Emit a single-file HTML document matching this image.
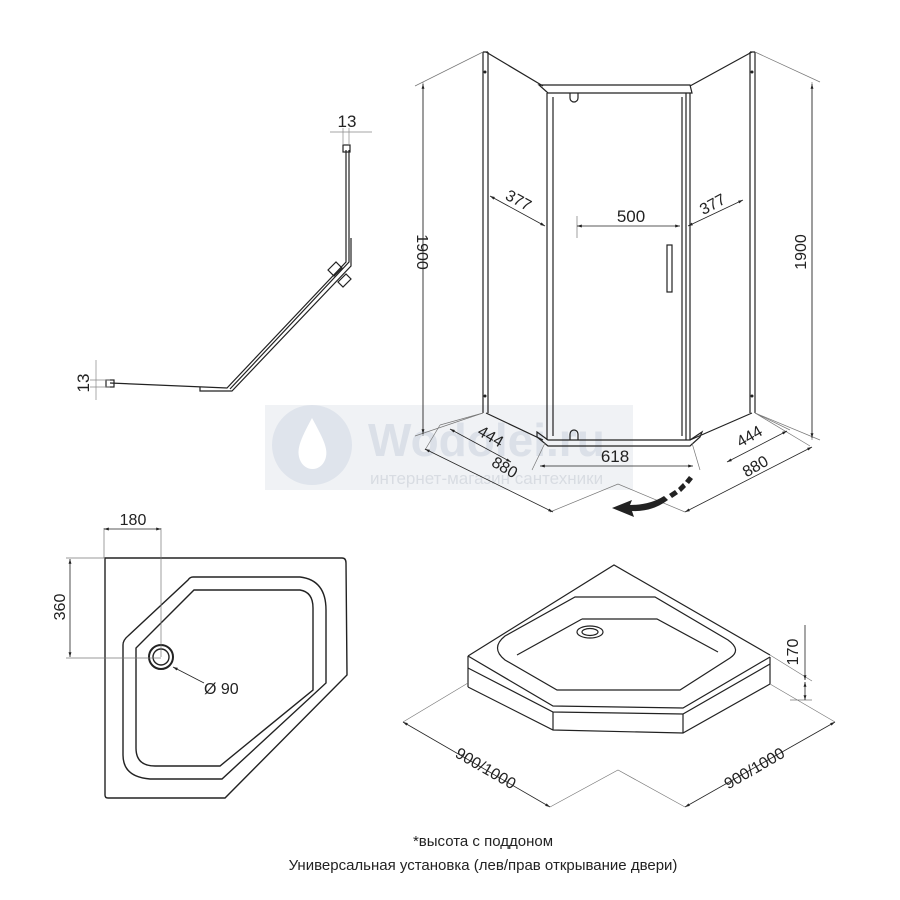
<!DOCTYPE html>
<html><head><meta charset="utf-8"><style>
html,body{margin:0;padding:0;background:#fff}
svg{display:block}
text{font-family:"Liberation Sans","DejaVu Sans",sans-serif;fill:#222}
</style></head><body>
<svg width="900" height="900" viewBox="0 0 900 900" xmlns="http://www.w3.org/2000/svg">
<defs>
<marker id="a" viewBox="0 0 10 10" refX="10" refY="5" markerWidth="8" markerHeight="6" orient="auto-start-reverse"><path d="M0,2 L10,5 L0,8z" fill="#222"/></marker>
</defs>

<!-- watermark -->
<rect x="265" y="405" width="368" height="85" fill="#f0f2f5"/>
<circle cx="312" cy="445" r="40" fill="#dfe4ec"/>
<path d="M312 418 C300 440 296 450 300 460 C305 472 320 472 325 460 C329 450 324 440 312 418z" fill="#fff"/>
<text x="368" y="456" font-size="46" font-weight="bold" style="fill:#dbe0e8">Wodolei.ru</text>
<text x="370" y="484" font-size="17" style="fill:#d8dce2">интернет-магазин сантехники</text>

<g fill="none" stroke="#222" stroke-width="1.2">
<!-- top-left plan -->
<path d="M346 150 L346 262 L227 388 L110 383"/>
<path d="M349 150 L349 262 L230 389"/>
<path d="M351 238 L351 266 L232 391 L200 391 L200 387"/>
<rect x="343" y="145" width="7" height="7"/>
<rect x="106" y="380" width="8" height="7"/>
<path d="M328 270 l8 -8 l6 6 l-8 8z M338 282 l8 -8 l5 5 l-8 8z"/>
</g>
<g stroke="#888" stroke-width="0.7" fill="none">
<path d="M330 132 L372 132 M343 128 L343 145 M349 128 L349 145"/>
<path d="M96 360 L96 400 M90 380 L110 380 M90 387 L110 387"/>
</g>
<text x="347" y="127" font-size="17" text-anchor="middle">13</text>
<text transform="translate(89,383) rotate(-90)" font-size="17" text-anchor="middle">13</text>

<!-- shower enclosure -->
<g fill="none" stroke="#222" stroke-width="1.2">
<path d="M483 52 L483 413 M488 52 L488 413 M483 52 L488 52"/>
<path d="M486 52 L543 86 M486 413 L543 440"/>
<path d="M750 52 L750 413 M755 52 L755 413 M750 52 L755 52"/>
<path d="M752 52 L690 86 M752 413 L690 440"/>
<path d="M539 85 L690 85 L692 93 L548 93 Z"/>
<path d="M547 93 L547 440 M553 97 L553 436 M682 97 L682 436 M686 93 L686 440 M690 93 L690 440"/>
<path d="M537 432 L548 440 L690 440 L702 432 L700 437 L690 446 L548 446 L537 437Z"/>
<rect x="667" y="245" width="5" height="47"/>
<path d="M570 93 L570 98 A4 4 0 0 0 578 98 L578 93"/>
<path d="M570 440 L570 434 A4 4 0 0 1 578 434 L578 440"/>
</g>
<g fill="#222"><circle cx="485" cy="72" r="1.5"/><circle cx="485" cy="396" r="1.5"/><circle cx="752" cy="72" r="1.5"/><circle cx="752" cy="396" r="1.5"/></g>
<g stroke="#777" stroke-width="0.7" fill="none">
<path d="M415 86 L483 52 M415 436 L483 413 M423 82 L423 436"/>
<path d="M820 82 L755 52 M820 440 L755 413 M812 82 L812 440"/>
<path d="M440 425 L483 413 M425 450 L440 425"/>
<path d="M545 443 L532 470 M692 443 L700 470"/>
<path d="M755 413 L790 430 M810 446 L755 413"/>
<path d="M550 512 L618 484 L685 512"/>
<path d="M577 216 L577 238"/>
</g>
<g stroke="#222" stroke-width="0.8" fill="none" marker-start="url(#a)" marker-end="url(#a)">
<path d="M423 84 L423 434"/>
<path d="M812 84 L812 438"/>
<path d="M490 196 L545 226"/>
<path d="M688 226 L743 200"/>
<path d="M577 226 L680 226"/>
<path d="M450 429 L511 462"/>
<path d="M425 449 L553 512"/>
<path d="M540 466 L693 466"/>
<path d="M727 462 L787 431"/>
<path d="M685 512 L812 447"/>
</g>
<text transform="translate(417,252) rotate(90)" font-size="16" text-anchor="middle">1900</text>
<text transform="translate(806,252) rotate(-90)" font-size="16" text-anchor="middle">1900</text>
<text transform="translate(516,205) rotate(28)" font-size="16" text-anchor="middle">377</text>
<text transform="translate(715,209) rotate(-28)" font-size="16" text-anchor="middle">377</text>
<text x="631" y="222" font-size="17" text-anchor="middle">500</text>
<text transform="translate(488,441) rotate(30)" font-size="16" text-anchor="middle">444</text>
<text transform="translate(502,472) rotate(30)" font-size="16" text-anchor="middle">880</text>
<text x="615" y="462" font-size="17" text-anchor="middle">618</text>
<text transform="translate(752,441) rotate(-30)" font-size="16" text-anchor="middle">444</text>
<text transform="translate(758,471) rotate(-30)" font-size="16" text-anchor="middle">880</text>
<!-- swing arrow -->
<path d="M612 508 L632 500 L630 505 Q650 505 664 496 L668 500 Q652 512 632 511 L634 517 Z" fill="#222"/>
<g fill="#222"><path d="M669 494 l6 -4 l3 4 l-6 4z M678 488 l5 -5 l3 4 l-5 5z M685 481 l4 -5 l4 3 l-4 5z"/></g>

<!-- bottom-left tray plan -->
<g fill="none" stroke="#222" stroke-width="1.4">
<path d="M105 558 L342 558 Q346 558 346 563 L347 675 L225 798 L108 798 Q105 798 105 795 Z"/>
<path d="M193 577 L300 577 Q326 580 326 610 L326 683 L222 779 L150 779 Q123 777 123 755 L123 645 Q123 640 128 636 L188 580 Q190 577 193 577 Z"/>
<path d="M194 590 L300 590 Q313 592 313 608 L313 690 L220 766 L155 766 Q136 766 136 748 L136 648 Z"/>
<circle cx="161" cy="657" r="12" stroke-width="2"/>
<circle cx="161" cy="657" r="8"/>
</g>
<g stroke="#777" stroke-width="0.7" fill="none">
<path d="M104 528 L104 558 M161 528 L161 657 M66 558 L105 558 M66 658 L161 658"/>
</g>
<g stroke="#222" stroke-width="0.8" fill="none" marker-start="url(#a)" marker-end="url(#a)">
<path d="M104 529 L161 529"/>
<path d="M70 559 L70 657"/>
</g>
<path d="M204 683 L173 667" stroke="#222" stroke-width="0.8" marker-end="url(#a)"/>
<text x="133" y="525" font-size="16" text-anchor="middle">180</text>
<text transform="translate(65,607) rotate(-90)" font-size="16" text-anchor="middle">360</text>
<text x="204" y="694" font-size="16">Ø 90</text>

<!-- bottom-right tray iso -->
<g fill="none" stroke="#222" stroke-width="1.2">
<path d="M468 656 L614 565 L770 655"/>
<path d="M468 656 L553 706 L683 708 L770 657"/>
<path d="M468 656 L468 687 M770 657 L770 684"/>
<path d="M468 668 L553 712 L683 714 L770 664"/>
<path d="M553 712 L553 730 M683 714 L683 733"/>
<path d="M468 687 L553 730 L683 733 L770 684"/>
<path d="M575 597 L655 597 L728 640 Q742 650 730 658 L680 690 L557 690 L505 660 Q490 648 505 636 Z"/>
<path d="M582 619 L657 619 L718 652 M517 655 L582 619"/>
<ellipse cx="590" cy="632" rx="13" ry="6"/>
<ellipse cx="590" cy="632" rx="8" ry="3.5"/>
</g>
<g stroke="#777" stroke-width="0.7" fill="none">
<path d="M403 722 L468 683 M550 807 L618 770 L685 807 M835 722 L770 684 M770 655 L812 681 M790 700 L812 700"/>
</g>
<g stroke="#222" stroke-width="0.8" fill="none" marker-start="url(#a)" marker-end="url(#a)">
<path d="M403 722 L550 807"/>
<path d="M685 807 L835 722"/>
<path d="M805 682 L805 700"/>
</g>
<path d="M805 625 L805 680" stroke="#222" stroke-width="0.8" marker-end="url(#a)"/>
<text transform="translate(798,652) rotate(-90)" font-size="16" text-anchor="middle">170</text>
<text transform="translate(483,773) rotate(30)" font-size="16" text-anchor="middle">900/1000</text>
<text transform="translate(757,773) rotate(-30)" font-size="16" text-anchor="middle">900/1000</text>

<text x="483" y="846" font-size="15" text-anchor="middle">*высота с поддоном</text>
<text x="483" y="870" font-size="15" text-anchor="middle">Универсальная установка (лев/прав открывание двери)</text>
</svg>
</body></html>
